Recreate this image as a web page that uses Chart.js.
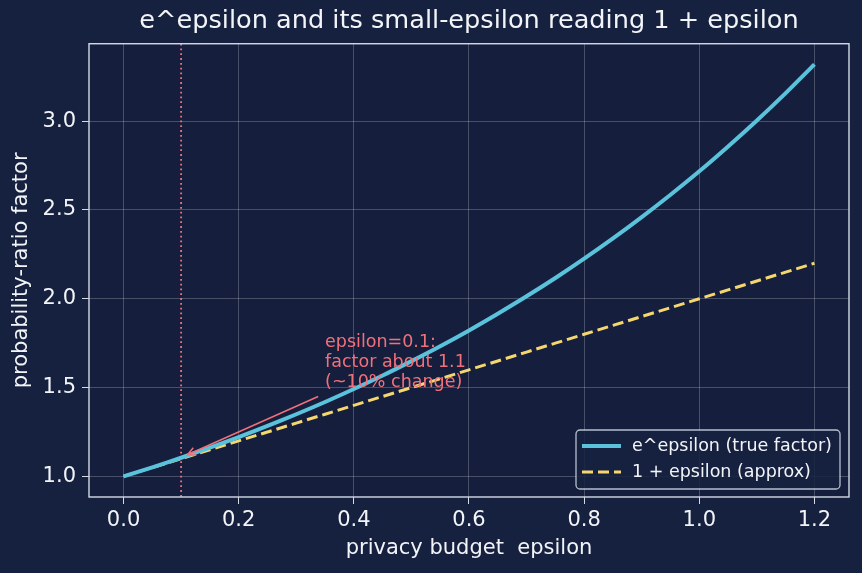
<!DOCTYPE html>
<html>
<head>
<meta charset="utf-8">
<script src="https://cdn.jsdelivr.net/npm/chart.js@4.4.1/dist/chart.umd.min.js"></script>
<style>
  html, body { margin: 0; padding: 0; background: #16213f; }
  #wrap { width: 862px; height: 573px; }
</style>
</head>
<body>
<div id="wrap"><canvas id="chart"></canvas></div>
<script>
// privacy budget values along the x axis
const epsilonValues = [0, 0.05, 0.1, 0.15, 0.2, 0.25, 0.3, 0.35, 0.4, 0.45, 0.5, 0.55, 0.6,
  0.65, 0.7, 0.75, 0.8, 0.85, 0.9, 0.95, 1.0, 1.05, 1.1, 1.15, 1.2];
// e^epsilon
const trueFactor = [1.000, 1.051, 1.105, 1.162, 1.221, 1.284, 1.350, 1.419, 1.492, 1.568, 1.649,
  1.733, 1.822, 1.916, 2.014, 2.117, 2.226, 2.340, 2.460, 2.586, 2.718, 2.858, 3.004, 3.158, 3.320];
// 1 + epsilon, the dashed line
const approxFactor = [1.00, 1.05, 1.10, 1.15, 1.20, 1.25, 1.30, 1.35, 1.40, 1.45, 1.50, 1.55, 1.60,
  1.65, 1.70, 1.75, 1.80, 1.85, 1.90, 1.95, 2.00, 2.05, 2.10, 2.15, 2.20];

const xTicks = [0.0, 0.2, 0.4, 0.6, 0.8, 1.0, 1.2];
const yTicks = [1.0, 1.5, 2.0, 2.5, 3.0];
const seriesLabels = ['e^epsilon (true factor)', '1 + epsilon (approx)'];
const noteLines = ['epsilon=0.1:', 'factor about 1.1', '(~10% change)'];
const markerEpsilon = 0.1;

const FONT = "'DejaVu Sans', sans-serif";
const BLUE = '#5bc2dc';
const YELLOW = '#f5d76e';
const SALMON = '#f2707a';
const AXIS = '#d4dae6';
const GRID = 'rgba(255,255,255,0.22)';
const TEXT = '#f2f4f8';

// frame, marker line, note + arrow, legend box
const decorations = {
  id: 'decorations',
  beforeDatasetsDraw(chart) {
    const { ctx, chartArea: a, scales: { x } } = chart;
    const px = x.getPixelForValue(markerEpsilon);
    ctx.save();
    ctx.strokeStyle = SALMON;
    ctx.lineWidth = 1.8;
    ctx.setLineDash([1.8, 3]);
    ctx.beginPath();
    ctx.moveTo(px, a.top);
    ctx.lineTo(px, a.bottom);
    ctx.stroke();
    ctx.restore();
  },
  afterDatasetsDraw(chart) {
    const { ctx, chartArea: a, scales: { x, y } } = chart;
    ctx.save();

    // box around the plot
    ctx.strokeStyle = AXIS;
    ctx.lineWidth = 1.4;
    ctx.strokeRect(a.left, a.top, a.right - a.left, a.bottom - a.top);

    // annotation arrow
    const x0 = x.getPixelForValue(0.338), y0 = y.getPixelForValue(1.45);
    const x1 = x.getPixelForValue(0.111), y1 = y.getPixelForValue(1.122);
    ctx.strokeStyle = SALMON;
    ctx.lineWidth = 1.5;
    ctx.beginPath();
    ctx.moveTo(x0, y0);
    ctx.lineTo(x1, y1);
    const ang = Math.atan2(y1 - y0, x1 - x0);
    const h = 9;
    ctx.moveTo(x1 - h * Math.cos(ang - 0.45), y1 - h * Math.sin(ang - 0.45));
    ctx.lineTo(x1, y1);
    ctx.lineTo(x1 - h * Math.cos(ang + 0.45), y1 - h * Math.sin(ang + 0.45));
    ctx.stroke();

    // annotation text
    ctx.fillStyle = SALMON;
    ctx.font = '17.5px ' + FONT;
    ctx.textBaseline = 'middle';
    const tx = x.getPixelForValue(0.35);
    const ty = y.getPixelForValue(1.755);
    noteLines.forEach((line, i) => ctx.fillText(line, tx, ty + i * 20));

    // legend
    const lx = a.right - 273, ly = a.bottom - 67, lw = 264, lh = 59;
    ctx.beginPath();
    ctx.roundRect(lx, ly, lw, lh, 4);
    ctx.fillStyle = 'rgba(22,33,63,0.85)';
    ctx.fill();
    ctx.strokeStyle = 'rgba(212,218,230,0.85)';
    ctx.lineWidth = 1.3;
    ctx.stroke();

    const rows = [
      { label: seriesLabels[0], color: BLUE, width: 4, dash: [] },
      { label: seriesLabels[1], color: YELLOW, width: 3, dash: [11, 5] }
    ];
    rows.forEach((r, i) => {
      const ry = ly + 16 + i * 26;
      ctx.strokeStyle = r.color;
      ctx.lineWidth = r.width;
      ctx.setLineDash(r.dash);
      ctx.beginPath();
      ctx.moveTo(lx + 6, ry);
      ctx.lineTo(lx + 45, ry);
      ctx.stroke();
      ctx.setLineDash([]);
      ctx.fillStyle = TEXT;
      ctx.font = '17.5px ' + FONT;
      ctx.textBaseline = 'middle';
      ctx.fillText(r.label, lx + 56, ry);
    });
    ctx.restore();
  }
};

const bgPlugin = {
  id: 'bg',
  beforeDraw(chart) {
    const { ctx, chartArea: a } = chart;
    ctx.save();
    ctx.fillStyle = '#16213f';
    ctx.fillRect(0, 0, chart.width, chart.height);
    ctx.fillStyle = '#151f3d';
    ctx.fillRect(a.left, a.top, a.right - a.left, a.bottom - a.top);
    ctx.restore();
  }
};

new Chart(document.getElementById('chart'), {
  type: 'line',
  data: {
    datasets: [
      {
        label: seriesLabels[0],
        data: epsilonValues.map((e, i) => ({ x: e, y: trueFactor[i] })),
        borderColor: BLUE,
        borderWidth: 4,
        pointRadius: 0,
        tension: 0.3,
        borderCapStyle: 'butt'
      },
      {
        label: seriesLabels[1],
        data: epsilonValues.map((e, i) => ({ x: e, y: approxFactor[i] })),
        borderColor: YELLOW,
        borderWidth: 3,
        borderDash: [11, 5],
        pointRadius: 0,
        tension: 0
      }
    ]
  },
  options: {
    responsive: true,
    maintainAspectRatio: false,
    animation: false,
    layout: { padding: { left: 0, right: 13, top: 0, bottom: 0 } },
    plugins: {
      legend: { display: false },
      tooltip: { enabled: false },
      title: {
        display: true,
        fullSize: false,
        text: 'e^epsilon and its small-epsilon reading 1 + epsilon',
        color: TEXT,
        font: { family: FONT, size: 25.6, weight: 'normal', lineHeight: 1.2 },
        padding: { top: 6, bottom: 7 }
      }
    },
    scales: {
      x: {
        type: 'linear',
        min: -0.06,
        max: 1.26,
        afterBuildTicks: s => { s.ticks = xTicks.map(v => ({ value: v })); },
        afterFit: s => { s.height = 76; },
        ticks: {
          color: TEXT,
          font: { family: FONT, size: 21 },
          padding: 4,
          maxRotation: 0,
          callback: v => v.toFixed(1)
        },
        grid: { color: GRID, tickColor: AXIS, tickLength: 7, drawOnChartArea: true },
        border: { display: false },
        title: {
          display: true,
          text: 'privacy budget  epsilon',
          color: TEXT,
          font: { family: FONT, size: 21, lineHeight: 1.2 },
          padding: { top: 2, bottom: 12 }
        }
      },
      y: {
        type: 'linear',
        min: 0.884,
        max: 3.436,
        afterBuildTicks: s => { s.ticks = yTicks.map(v => ({ value: v })); },
        afterFit: s => { s.width = 89; },
        ticks: {
          color: TEXT,
          font: { family: FONT, size: 21 },
          padding: 6,
          callback: v => v.toFixed(1)
        },
        grid: { color: GRID, tickColor: AXIS, tickLength: 7 },
        border: { display: false },
        title: {
          display: true,
          text: 'probability-ratio factor',
          color: TEXT,
          font: { family: FONT, size: 21, lineHeight: 1.2 },
          padding: { top: 9, bottom: 2 }
        }
      }
    }
  },
  plugins: [bgPlugin, decorations]
});
</script>
</body>
</html>
